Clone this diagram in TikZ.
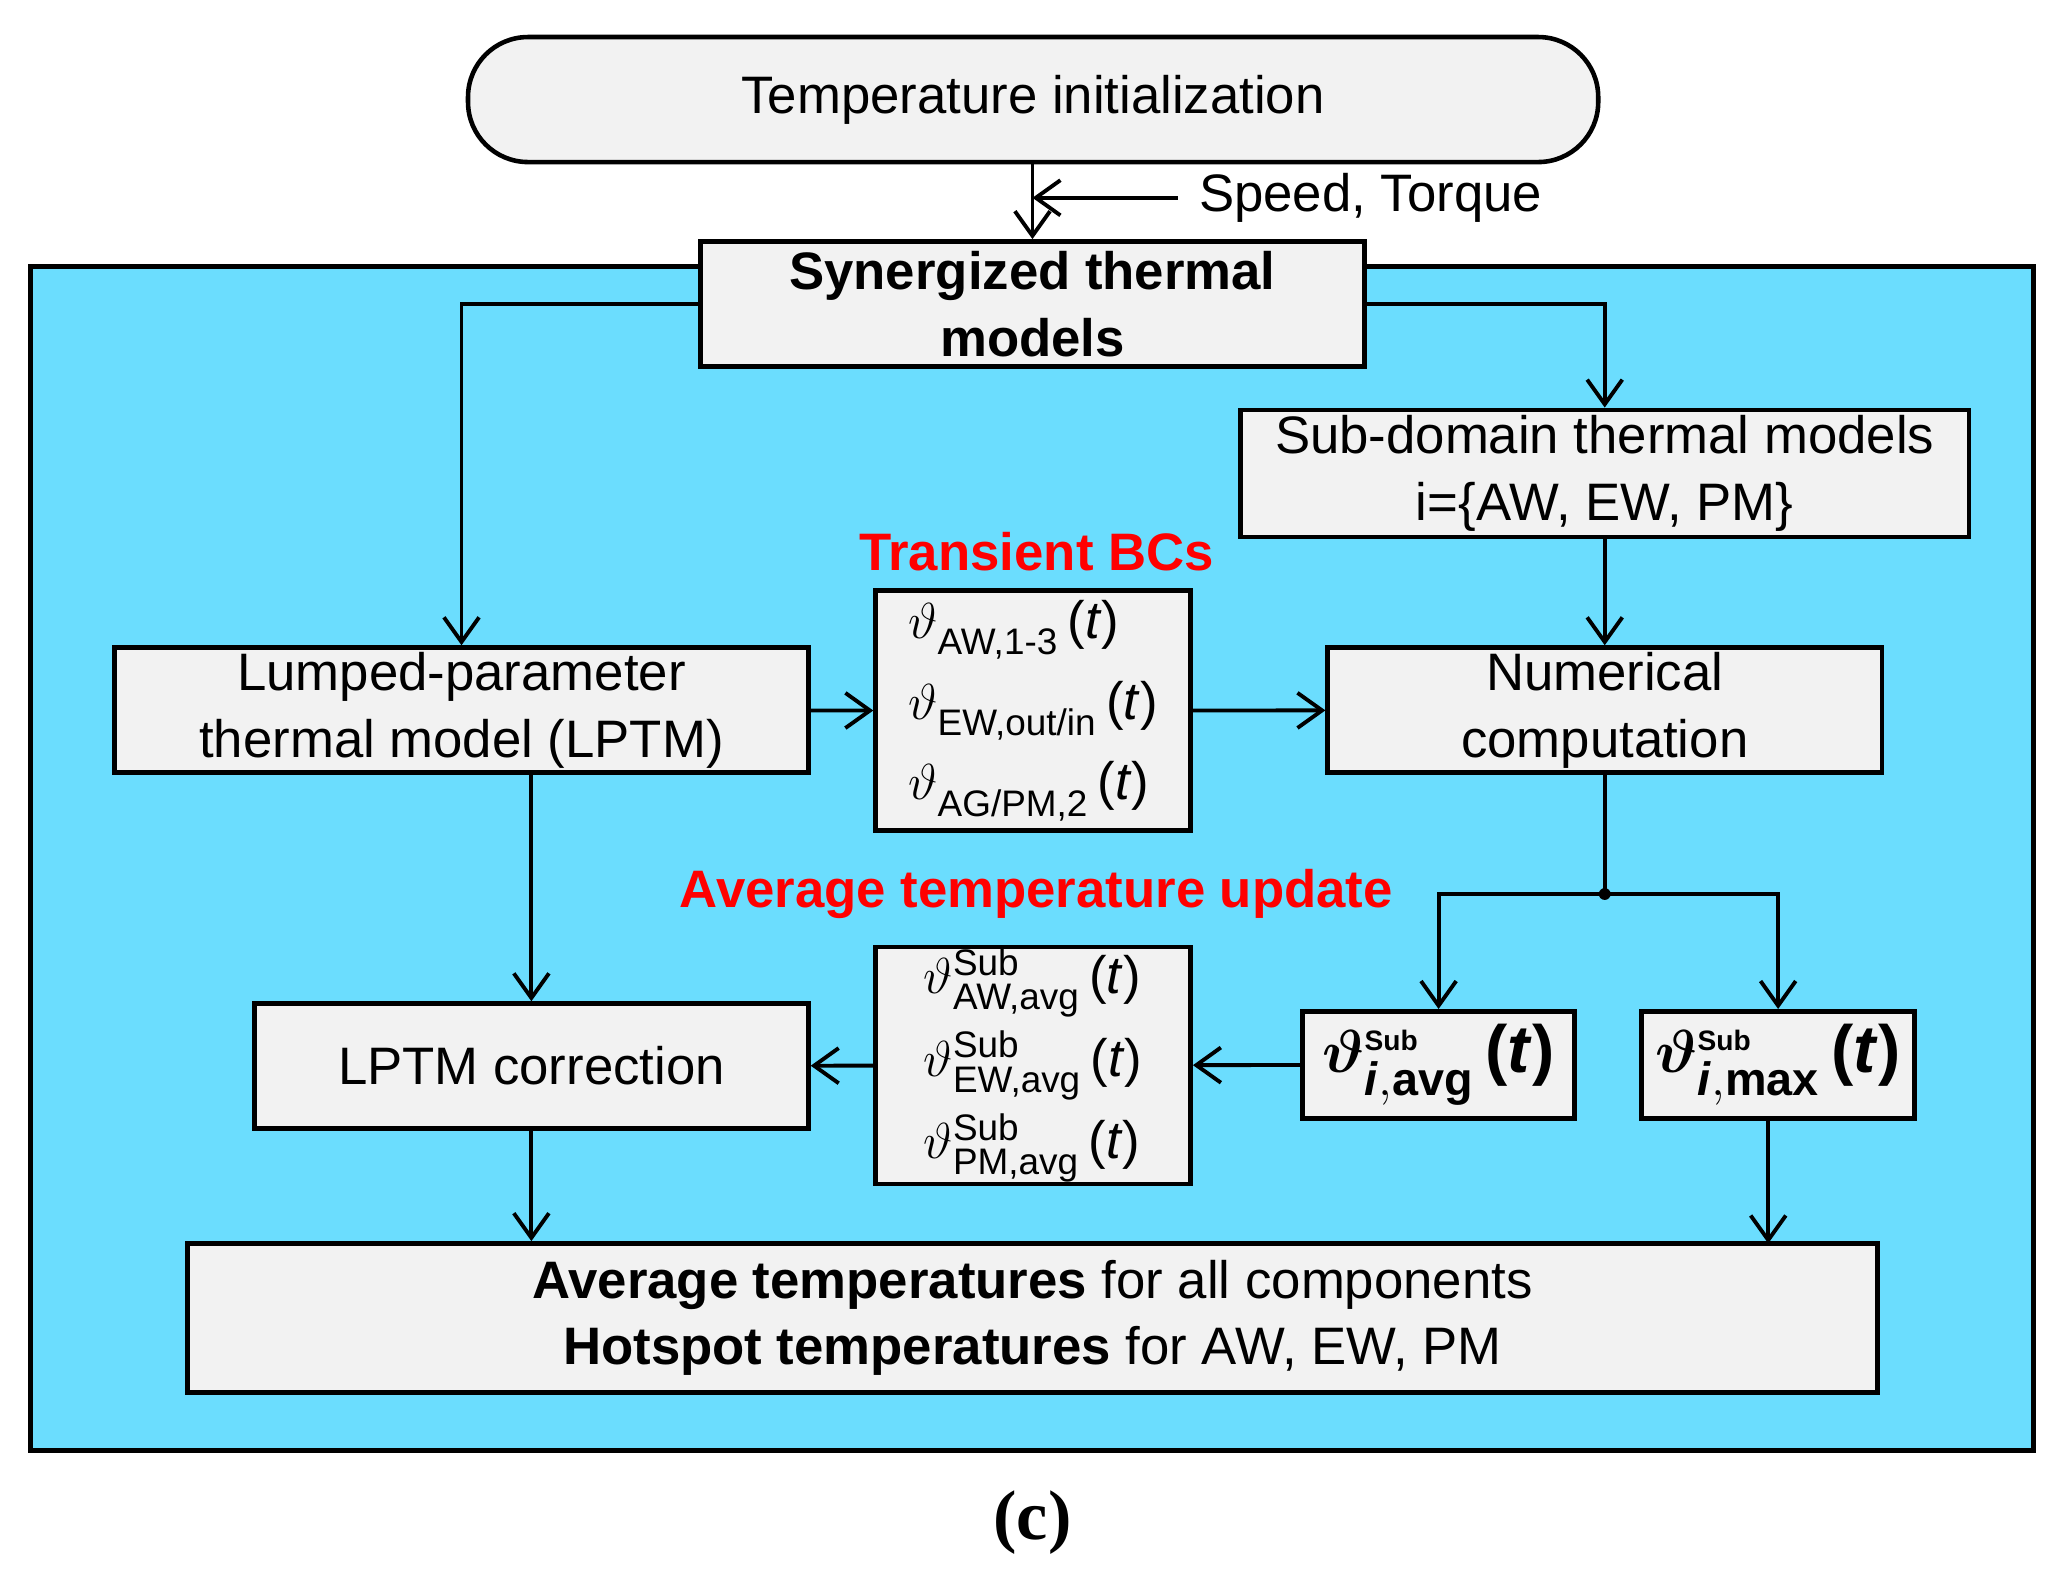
\documentclass[tikz,border=0pt]{standalone}
\usepackage{amsmath,amssymb}
\usepackage{fontspec}
\setmainfont{Liberation Sans}
\newfontfamily\capfont{Liberation Serif}
\usepackage{xcolor}
\usetikzlibrary{arrows.meta}
\definecolor{panel}{HTML}{6BDDFE}
\definecolor{boxg}{HTML}{F2F2F2}
\tikzset{
  blk/.style={draw=black, line width=1.3pt, fill=boxg, align=center, inner sep=0pt, font=\fontsize{15}{19}\selectfont},
  arr/.style={-{Straight Barb[length=7pt,width=10pt]}, line width=1.1pt},
  note/.style={text=red, font=\bfseries\fontsize{15}{18}\selectfont}
}
\newcommand{\thv}[2]{$\vartheta_{\text{#1}}^{#2}$\,(\textit{t})}
\begin{document}
\begin{tikzpicture}[x=0.013186cm, y=-0.013186cm]
  \useasboundingbox (0,0) rectangle (1560,1190.6);
  \fill[panel, draw=black, line width=1.3pt] (23,202) rectangle (1542,1100);
  % boxes
  \node[blk, rounded corners=0.6cm, minimum width=11.3cm, minimum height=1.25cm] (init) at (783.5,75.5) {Temperature initialization};
  \node[blk, font=\bfseries\fontsize{15}{19}\selectfont, minimum width=6.64cm, minimum height=1.25cm] (syn) at (783,230.5) {Synergized thermal\\models};
  \node[blk, minimum width=7.28cm, minimum height=1.27cm] (sub) at (1217,359) {Sub-domain thermal models\\i=\{AW, EW, PM\}};
  \node[blk, minimum width=6.94cm, minimum height=1.25cm] (lptm) at (350,538.5) {Lumped-parameter\\thermal model (LPTM)};
  \node[blk, minimum width=3.15cm, minimum height=2.4cm, align=left] (bcs) at (783.5,539)
    {\thv{AW,1-3}{}\\[4pt]\thv{EW,out/in}{}\\[4pt]\thv{AG/PM,2}{}};
  \node[blk, minimum width=5.54cm, minimum height=1.25cm] (num) at (1217,538.5) {Numerical\\computation};
  \node[blk, minimum width=5.54cm, minimum height=1.25cm] (corr) at (403,808.5) {LPTM correction};
  \node[blk, minimum width=3.15cm, minimum height=2.37cm, align=left] (avg) at (783.5,808)
    {\thv{AW,avg}{\text{Sub}}\\[3pt]\thv{EW,avg}{\text{Sub}}\\[3pt]\thv{PM,avg}{\text{Sub}}};
  \node[blk, minimum width=2.72cm, minimum height=1.07cm, font=\bfseries\fontsize{19}{22}\selectfont] (tavg) at (1091,807.5)
    {$\boldsymbol{\vartheta}_{\textbf{\textit{i}},\textbf{avg}}^{\textbf{\footnotesize Sub}}$\,(\textit{t})};
  \node[blk, minimum width=2.73cm, minimum height=1.07cm, font=\bfseries\fontsize{19}{22}\selectfont] (tmax) at (1348.5,807.5)
    {$\boldsymbol{\vartheta}_{\textbf{\textit{i}},\textbf{max}}^{\textbf{\footnotesize Sub}}$\,(\textit{t})};
  \node[blk, minimum width=16.9cm, minimum height=1.49cm] (out) at (783,999.5)
    {\textbf{Average temperatures} for all components\\\textbf{Hotspot temperatures} for AW, EW, PM};
  % labels
  \node[note] (lbc) at (786,418) {Transient BCs};
  \node[note] (lav) at (786,678) {Average temperature update};
  \node[font=\fontsize{15}{19}\selectfont, anchor=west] (st) at (900,150) {Speed, Torque};
  \node[font=\capfont\bfseries\fontsize{20}{24}\selectfont] (cap) at (783,1155) {(c)};
  % connectors
  \coordinate (spd) at (893,150);
  \draw[arr] (init.south -| syn.north) -- (syn.north);
  \draw[arr] (spd) -- (783,150);
  \draw[arr] (syn.west) -| (lptm.north);
  \draw[arr] (syn.east) -| (sub.north);
  \draw[arr] (sub) -- (num);
  \draw[arr] (lptm) -- (bcs);
  \draw[arr] (bcs) -- (num);
  \draw[arr] (lptm.south -| corr.north) -- (corr.north);
  \coordinate (dot) at (1217,678);
  \fill (dot) circle (4.5);
  \draw[line width=1.1pt] (num.south) -- (dot);
  \draw[arr] (dot) -| (tavg.north);
  \draw[arr] (dot) -| (tmax.north);
  \draw[arr] (tavg) -- (avg);
  \draw[arr] (avg) -- (corr);
  \draw[arr] (corr.south) -- (corr.south |- out.north);
  \draw[arr] (tmax.south -| 1341,0) -- (1341,943);
\end{tikzpicture}
\end{document}
